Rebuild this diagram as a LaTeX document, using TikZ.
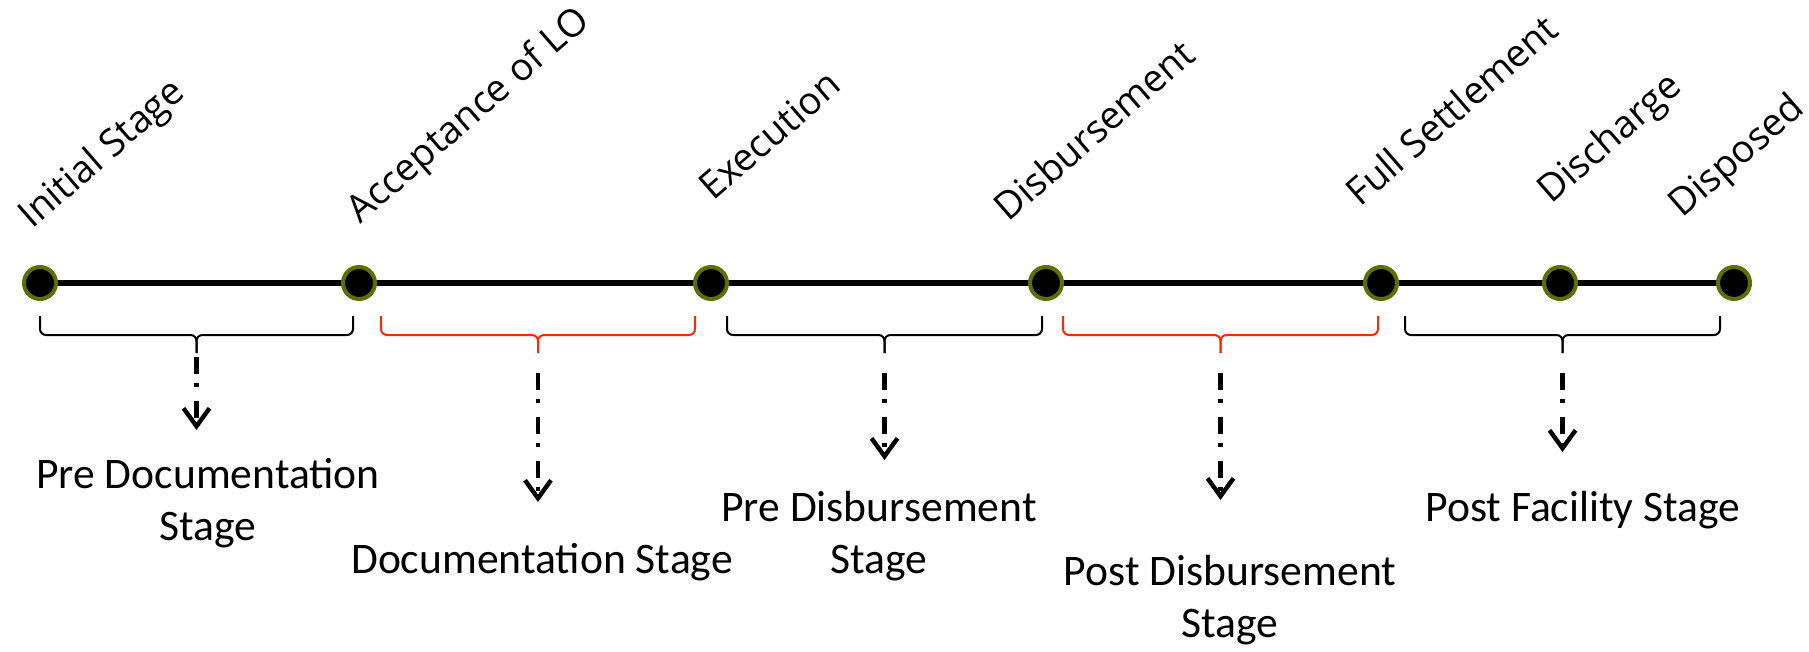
\documentclass[tikz,border=0pt]{standalone}
\usepackage{fontspec}
\setmainfont{Carlito}
\newfontfamily\tagfont{Open Sans}
\usepackage{tikz}
\usetikzlibrary{arrows.meta}

\definecolor{dotrim}{RGB}{92,112,0}
\definecolor{bracered}{RGB}{255,40,5}

\begin{document}
\begin{tikzpicture}[x=0.5pt, y=0.5pt,
    stagedot/.style={circle, fill=black, draw=dotrim, line width=2pt, minimum size=16pt, inner sep=0pt},
    milestone/.style={anchor=base west, rotate=41, inner sep=0pt, font=\tagfont\fontsize{19}{23}\selectfont},
    stagename/.style={anchor=base, align=center, inner sep=0pt, font=\fontsize{21.8}{26}\selectfont},
    stagebrace/.style={line width=1pt, rounded corners=3pt},
    pointer/.style={line width=2.2pt, dash pattern=on 8.5pt off 4.5pt on 2pt off 7pt,
                    -{Straight Barb[length=9pt,width=13pt]}}]
  % Define parameters
  \def\lineY{-283}     % height of the time line
  \def\braceTop{-316}  % upper ends of the braces
  \def\braceMid{-335}  % long part of the braces
  \def\braceTip{-353}  % lower tip of the braces

  \useasboundingbox (0,0) rectangle (1809,-652);

  % Draw the time line with its milestones
  \foreach \n/\x in {1/40, 2/359, 3/711, 4/1046, 5/1381, 6/1560, 7/1734} {
      \coordinate (p\n) at (\x, \lineY);
  }
  \draw[line width=2.8pt] (p1) -- (p7);
  \foreach \n in {1,...,7} {
      \node[stagedot] (d\n) at (p\n) {};
  }

  % Milestone names
  \node[milestone] (m1) at (32, -230) {Initial Stage};
  \node[milestone] (m2) at (360, -225) {Acceptance of LO};
  \node[milestone] (m3) at (713, -202) {Execution};
  \node[milestone] (m4) at (1008, -223) {Disbursement};
  \node[milestone] (m5) at (1360, -208) {Full Settlement};
  \node[milestone] (m6) at (1551, -205) {Discharge};
  \node[milestone] (m7) at (1682, -219) {Disposed};

  % Draw the braces under each stage
  \foreach \n/\xa/\xb/\col in {1/40/353/black, 2/381/695/bracered, 3/727/1042/black,
                               4/1063/1378/bracered, 5/1405/1720/black} {
      \pgfmathsetmacro\xm{(\xa+\xb)/2}
      \draw[stagebrace, \col] (\xa, \braceTop) -- (\xa, \braceMid) -- (\xm, \braceMid) -- (\xm, \braceTip);
      \draw[stagebrace, \col] (\xb, \braceTop) -- (\xb, \braceMid) -- (\xm, \braceMid) -- (\xm, \braceTip);
      \coordinate (t\n) at (\xm, \braceTip);
  }

  % Stage names (base is the last line)
  \node[stagename] (s1) at (208, -540) {Pre Documentation\\Stage};
  \node[stagename] (s2) at (542, -573) {Documentation Stage};
  \node[stagename] (s3) at (879, -573) {Pre Disbursement\\Stage};
  \node[stagename] (s4) at (1230, -637) {Post Disbursement\\Stage};
  \node[stagename] (s5) at (1583, -521) {Post Facility Stage};

  % Pointers from the braces down to the stage names
  \foreach \n/\ya/\yb in {1/-357/-430, 2/-373/-502, 3/-373/-460, 4/-373/-500, 5/-373/-452} {
      \coordinate (a\n) at (t\n |- 0,\ya);
      \coordinate (e\n) at (t\n |- 0,\yb);
      \draw[pointer] (a\n) -- (e\n);
  }
\end{tikzpicture}
\end{document}
